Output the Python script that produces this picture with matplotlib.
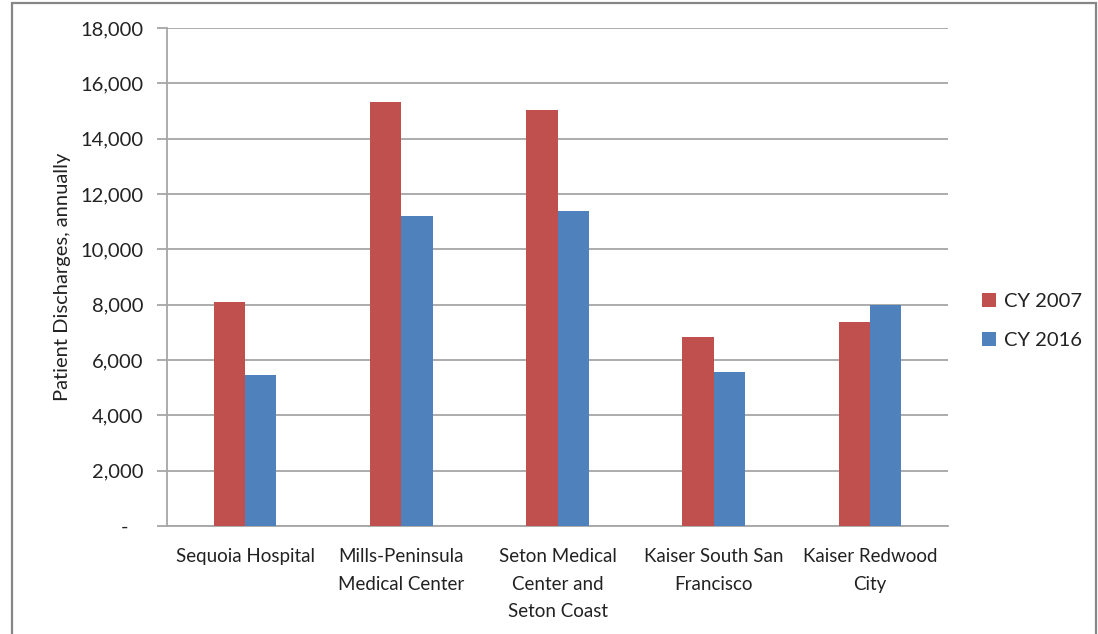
import matplotlib
matplotlib.use("Agg")
import matplotlib.pyplot as plt
import numpy as np
from matplotlib.patches import Rectangle

categories = ["Sequoia Hospital", "Mills-Peninsula\nMedical Center",
              "Seton Medical\nCenter and\nSeton Coast", "Kaiser South San\nFrancisco",
              "Kaiser Redwood\nCity"]
cy2007 = [8110, 15330, 15030, 6820, 7370]
cy2016 = [5470, 11220, 11380, 5550, 7990]
series_names = ["CY 2007", "CY 2016"]
yticks = [0, 2000, 4000, 6000, 8000, 10000, 12000, 14000, 16000, 18000]
ytick_labels = ["-   "] + [f"{v:,}" for v in yticks[1:]]

plt.rcParams['font.family'] = ['Lato', 'DejaVu Sans']

W, H = 1098, 634
fig = plt.figure(figsize=(W / 100, H / 100), dpi=100)
ax = fig.add_axes([167 / W, (H - 526) / H, (948 - 167) / W, (526 - 28) / H])

red = "#C0504D"
blue = "#4F81BD"
x = np.arange(len(categories))
bw = 0.2
ax.bar(x - bw / 2, cy2007, width=bw, color=red, label=series_names[0], zorder=3)
ax.bar(x + bw / 2, cy2016, width=bw, color=blue, label=series_names[1], zorder=3)

ax.set_xlim(-0.5, len(categories) - 0.5)
ax.set_ylim(0, 18000)
ax.set_yticks(yticks)
ax.set_yticklabels(ytick_labels, fontsize=14.5, color="#222222")
ax.set_xticks(x)
ax.set_xticklabels(categories, fontsize=13.5, color="#222222", linespacing=1.75, va="top")

grid_c = "#A6A6A6"
ax.yaxis.grid(True, color=grid_c, linewidth=1.3, zorder=0)
ax.set_axisbelow(True)
for s in ["top", "right"]:
    ax.spines[s].set_visible(False)
ax.spines["left"].set_color(grid_c)
ax.spines["bottom"].set_color(grid_c)
ax.spines["left"].set_linewidth(1.3)
ax.spines["bottom"].set_linewidth(1.3)
ax.tick_params(axis="y", direction="out", length=7, width=1.3, color=grid_c, pad=10)
ax.tick_params(axis="x", length=0, pad=16)

ax.set_ylabel("Patient Discharges, annually", fontsize=14.5, color="#222222", labelpad=7)

leg = fig.legend(loc="upper left", bbox_to_anchor=(964 / W, 1 - 275 / H),
                 frameon=False, fontsize=14.5, handlelength=0.7, handleheight=0.7,
                 handletextpad=0.4, labelspacing=1.1)
for t in leg.get_texts():
    t.set_color("#222222")

border = Rectangle((12 / W, -0.05), (1096 - 12) / W, (H - 3) / H + 0.05,
                   transform=fig.transFigure, fill=False, edgecolor="#868686",
                   linewidth=1.6, clip_on=False)
fig.patches.append(border)

fig.savefig("out.png", dpi=100)
